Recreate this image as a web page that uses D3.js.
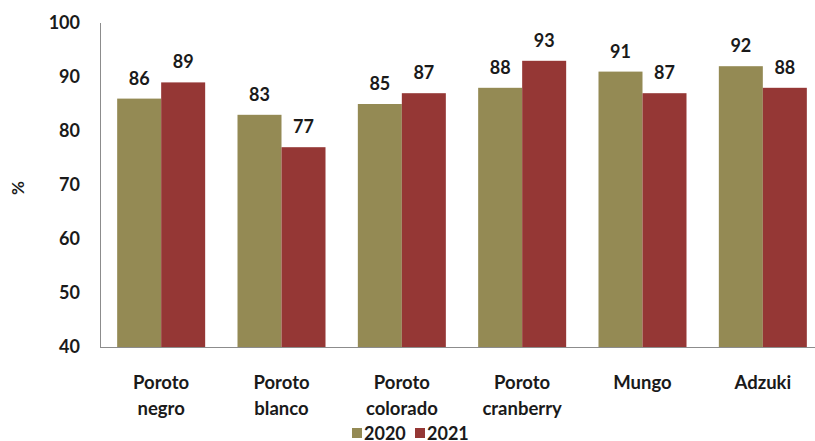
<!DOCTYPE html>
<html><head><meta charset="utf-8">
<script src="https://cdn.jsdelivr.net/npm/d3@7"></script>
<style>body{margin:0;background:#fff}svg{display:block}text{font-family:Lato,"Open Sans",sans-serif;font-weight:bold;fill:#1a1a1a}</style>
</head><body><svg id="c" width="815" height="441"></svg>
<script>
const categories = [["Poroto","negro"],["Poroto","blanco"],["Poroto","colorado"],["Poroto","cranberry"],["Mungo"],["Adzuki"]];
const series = ["2020","2021"];
const values2020 = [86,83,85,88,91,92];
const values2021 = [89,77,87,93,87,88];
const yTicks = [40,50,60,70,80,90,100];
const colors = ["#948A54","#953735"];

const svg = d3.select("#c");
const x = d3.scaleBand().domain(d3.range(categories.length)).range([101,823]).paddingInner(0).paddingOuter(0);
const y = d3.scaleLinear().domain([40,100]).range([347,23]);
const barW = 44;
const data = [values2020, values2021];

// axes lines
svg.append("line").attr("x1",100.5).attr("x2",100.5).attr("y1",23).attr("y2",347).attr("stroke","#8c8c8c");
svg.append("line").attr("x1",100).attr("x2",815).attr("y1",347.5).attr("y2",347.5).attr("stroke","#8c8c8c");

// y tick labels
svg.append("g").selectAll("text").data(yTicks).join("text")
  .attr("x",80).attr("y",d=>y(d)).attr("dy","0.35em").attr("text-anchor","end")
  .attr("font-size",18).text(d=>d);

svg.append("text").attr("transform","translate(18,188) rotate(-90)").attr("text-anchor","middle")
  .attr("dy","0.35em").attr("font-size",17).text("%");

// bars
series.forEach((s,si)=>{
  const g = svg.append("g");
  g.selectAll("rect").data(data[si]).join("rect")
    .attr("x",(d,i)=>x(i)+x.bandwidth()/2 - barW + si*barW)
    .attr("width",barW)
    .attr("y",d=>y(d)).attr("height",d=>y(40)-y(d))
    .attr("fill",colors[si]);
  g.selectAll("text").data(data[si]).join("text")
    .attr("x",(d,i)=>x(i)+x.bandwidth()/2 - barW/2 + si*barW)
    .attr("y",d=>y(d)-14).attr("text-anchor","middle").attr("font-size",18)
    .text(d=>d);
});

// x labels
const xl = svg.append("g").selectAll("text").data(categories).join("text")
  .attr("x",(d,i)=>x(i)+x.bandwidth()/2).attr("y",389).attr("text-anchor","middle").attr("font-size",18.5);
xl.selectAll("tspan").data(d=>d).join("tspan")
  .attr("x",function(){return d3.select(this.parentNode).attr("x");})
  .attr("dy",(d,i)=>i===0?0:26).text(d=>d);

// legend
const leg = svg.append("g");
const legX = [352,415];
series.forEach((s,i)=>{
  leg.append("rect").attr("x",legX[i]).attr("y",428).attr("width",10).attr("height",10).attr("fill",colors[i]);
  leg.append("text").attr("x",legX[i]+12).attr("y",440).attr("font-size",18).text(s);
});
</script></body></html>
